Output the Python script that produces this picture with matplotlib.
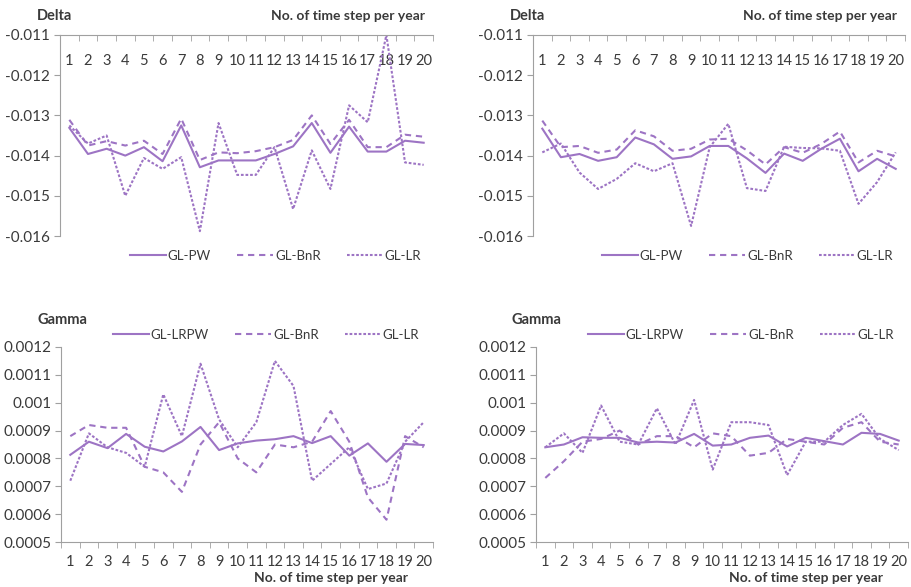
import matplotlib
matplotlib.use("Agg")
import matplotlib.pyplot as plt
from matplotlib.lines import Line2D

plt.rcParams['font.family'] = ['Lato', 'DejaVu Sans']

# categories: number of time steps per year
steps = list(range(1, 21))

# Delta, panel 1 (left)
delta1_pw = [-0.01331, -0.01396, -0.01383, -0.01400, -0.01379, -0.01414, -0.01325, -0.01429, -0.01412, -0.01412,
             -0.01412, -0.01396, -0.01377, -0.01319, -0.01393, -0.01328, -0.01390, -0.01390, -0.01363, -0.01368]
delta1_bnr = [-0.01311, -0.01375, -0.01364, -0.01375, -0.01363, -0.01396, -0.01308, -0.01411, -0.01392, -0.01394,
              -0.01389, -0.01379, -0.01361, -0.01300, -0.01371, -0.01311, -0.01379, -0.01379, -0.01348, -0.01353]
delta1_lr = [-0.01325, -0.01370, -0.01350, -0.01500, -0.01406, -0.01433, -0.01404, -0.01588, -0.01319, -0.01448,
             -0.01448, -0.01379, -0.01533, -0.01387, -0.01483, -0.01275, -0.01317, -0.01100, -0.01417, -0.01423]

# Delta, panel 2 (right)
delta2_pw = [-0.01333, -0.01404, -0.01396, -0.01413, -0.01404, -0.01355, -0.01372, -0.01408, -0.01402, -0.01376,
             -0.01376, -0.01407, -0.01443, -0.01395, -0.01413, -0.01383, -0.01358, -0.01439, -0.01408, -0.01433]
delta2_bnr = [-0.01313, -0.01379, -0.01376, -0.01393, -0.01385, -0.01337, -0.01352, -0.01388, -0.01383, -0.01360,
              -0.01358, -0.01387, -0.01422, -0.01379, -0.01393, -0.01371, -0.01340, -0.01417, -0.01388, -0.01402]
delta2_lr = [-0.01392, -0.01370, -0.01442, -0.01483, -0.01458, -0.01419, -0.01439, -0.01419, -0.01575, -0.01379,
             -0.01321, -0.01481, -0.01488, -0.01378, -0.01381, -0.01382, -0.01388, -0.01520, -0.01466, -0.01392]

# Gamma, panel 1 (left)
gamma1_lrpw = [0.000813, 0.000860, 0.000837, 0.000888, 0.000842, 0.000825, 0.000861, 0.000913, 0.000830, 0.000854,
               0.000864, 0.000869, 0.000880, 0.000855, 0.000880, 0.000810, 0.000854, 0.000788, 0.000852, 0.000848]
gamma1_bnr = [0.00088, 0.00092, 0.00091, 0.00091, 0.00077, 0.00075, 0.00068, 0.00085, 0.00093, 0.00080,
              0.00075, 0.00085, 0.00084, 0.00086, 0.00097, 0.00086, 0.00066, 0.00058, 0.00088, 0.00084]
gamma1_lr = [0.00072, 0.00089, 0.00084, 0.00082, 0.00077, 0.00103, 0.00088, 0.00114, 0.00094, 0.00084,
             0.00093, 0.00115, 0.00106, 0.00072, 0.00078, 0.00084, 0.00069, 0.00071, 0.00086, 0.00093]

# Gamma, panel 2 (right)
gamma2_lrpw = [0.000840, 0.000850, 0.000876, 0.000874, 0.000874, 0.000857, 0.000860, 0.000857, 0.000888, 0.000846,
               0.000850, 0.000874, 0.000882, 0.000843, 0.000874, 0.000862, 0.000850, 0.000892, 0.000888, 0.000864]
gamma2_bnr = [0.00073, 0.00079, 0.00086, 0.00087, 0.00090, 0.00085, 0.00088, 0.00088, 0.00084, 0.00089,
              0.00088, 0.00081, 0.00082, 0.00087, 0.00086, 0.00085, 0.00091, 0.00093, 0.00086, 0.00085]
gamma2_lr = [0.00084, 0.00089, 0.00082, 0.00099, 0.00086, 0.00085, 0.00098, 0.00085, 0.00101, 0.00076,
             0.00093, 0.00093, 0.00092, 0.00074, 0.00086, 0.00086, 0.00092, 0.00096, 0.00087, 0.00083]

delta_ticks = [-0.011, -0.012, -0.013, -0.014, -0.015, -0.016]
delta_labels = ["-0.011", "-0.012", "-0.013", "-0.014", "-0.015", "-0.016"]
gamma_ticks = [0.0012, 0.0011, 0.001, 0.0009, 0.0008, 0.0007, 0.0006, 0.0005]
gamma_labels = ["0.0012", "0.0011", "0.001", "0.0009", "0.0008", "0.0007", "0.0006", "0.0005"]

purple = "#9d74c4"
txt = "#3a3a3a"
axis_grey = "#a0a0a0"
styles = {"solid": "-", "bnr": (0, (3.0, 2.3)), "lr": (0, (1.3, 0.9))}


def setup_axes(ax, top_axis):
    ax.set_xlim(0.5, 20.5)
    for s in ax.spines.values():
        s.set_visible(False)
    ax.spines['left'].set_visible(True)
    ax.spines['left'].set_color(axis_grey)
    ax.set_xticks(steps)
    ax.set_xticklabels([str(s) for s in steps])
    ax.set_xticks([i + 0.5 for i in range(0, 21)], minor=True)
    ax.tick_params(axis='y', direction='out', length=4, color=axis_grey,
                   labelsize=11, labelcolor=txt, pad=3)
    if top_axis:
        ax.spines['top'].set_visible(True)
        ax.spines['top'].set_color(axis_grey)
        ax.tick_params(axis='x', which='major', length=0, top=False, bottom=False,
                       labeltop=True, labelbottom=False, pad=-24, labelsize=10.5, labelcolor=txt)
        ax.tick_params(axis='x', which='minor', top=True, bottom=False, direction='in',
                       length=4, color=axis_grey)
    else:
        ax.spines['bottom'].set_visible(True)
        ax.spines['bottom'].set_color(axis_grey)
        ax.tick_params(axis='x', which='major', length=0, pad=9, labelsize=10.5, labelcolor=txt)
        ax.tick_params(axis='x', which='minor', bottom=True, direction='out',
                       length=4, color=axis_grey)


fig = plt.figure(figsize=(9.12, 5.87), dpi=100)

panels = [
    ([60 / 912, 1 - 236 / 587, 373 / 912, 201 / 587], delta1_pw, delta1_bnr, delta1_lr, "Delta", True),
    ([533 / 912, 1 - 236 / 587, 372 / 912, 201 / 587], delta2_pw, delta2_bnr, delta2_lr, "Delta", True),
    ([61 / 912, 1 - 542 / 587, 372 / 912, 195 / 587], gamma1_lrpw, gamma1_bnr, gamma1_lr, "Gamma", False),
    ([536 / 912, 1 - 542 / 587, 372 / 912, 195 / 587], gamma2_lrpw, gamma2_bnr, gamma2_lr, "Gamma", False),
]

for rect, s_solid, s_bnr, s_lr, name, is_delta in panels:
    ax = fig.add_axes(rect)
    ax.patch.set_alpha(0)
    setup_axes(ax, is_delta)
    ax.plot(steps, s_solid, color=purple, lw=1.5, linestyle=styles["solid"])
    ax.plot(steps, s_bnr, color=purple, lw=1.5, linestyle=styles["bnr"])
    ax.plot(steps, s_lr, color=purple, lw=1.5, linestyle=styles["lr"])
    if is_delta:
        ax.set_ylim(-0.016, -0.011)
        ax.set_yticks(delta_ticks)
        ax.set_yticklabels(delta_labels)
    else:
        ax.set_ylim(0.0005, 0.0012)
        ax.set_yticks(gamma_ticks)
        ax.set_yticklabels(gamma_labels)

    x0 = rect[0]
    x1 = rect[0] + rect[2]
    if is_delta:
        fig.text(x0 - 23 / 912, 1 - 16 / 587, name, fontsize=10.5, fontweight='bold',
                 color=txt, va='center', ha='left')
        fig.text(x1 - 8 / 912, 1 - 16 / 587, "No. of time step per year", fontsize=10,
                 fontweight='bold', color=txt, va='center', ha='right')
        first_label = "GL-PW"
        leg_y = 1 - 256 / 587
        leg_right = x1 - 12 / 912
    else:
        fig.text(x0 - 24 / 912, 1 - 320 / 587, name, fontsize=10.5, fontweight='bold',
                 color=txt, va='center', ha='left')
        fig.text(x1 - 25 / 912, 3 / 587, "No. of time step per year", fontsize=10,
                 fontweight='bold', color=txt, va='bottom', ha='right')
        first_label = "GL-LRPW"
        leg_y = 1 - 335 / 587
        leg_right = x1 - 14 / 912

    handles = [
        Line2D([], [], color=purple, lw=1.5, linestyle=styles["solid"]),
        Line2D([], [], color=purple, lw=1.5, linestyle=styles["bnr"]),
        Line2D([], [], color=purple, lw=1.5, linestyle=styles["lr"]),
    ]
    fig.legend(handles, [first_label, "GL-BnR", "GL-LR"], loc='center right',
               bbox_to_anchor=(leg_right, leg_y), ncol=3, frameon=False,
               fontsize=9.5, handlelength=2.7, handletextpad=0.15, columnspacing=2.0,
               labelcolor=txt, borderpad=0, borderaxespad=0)

fig.savefig("out.png", dpi=100)
